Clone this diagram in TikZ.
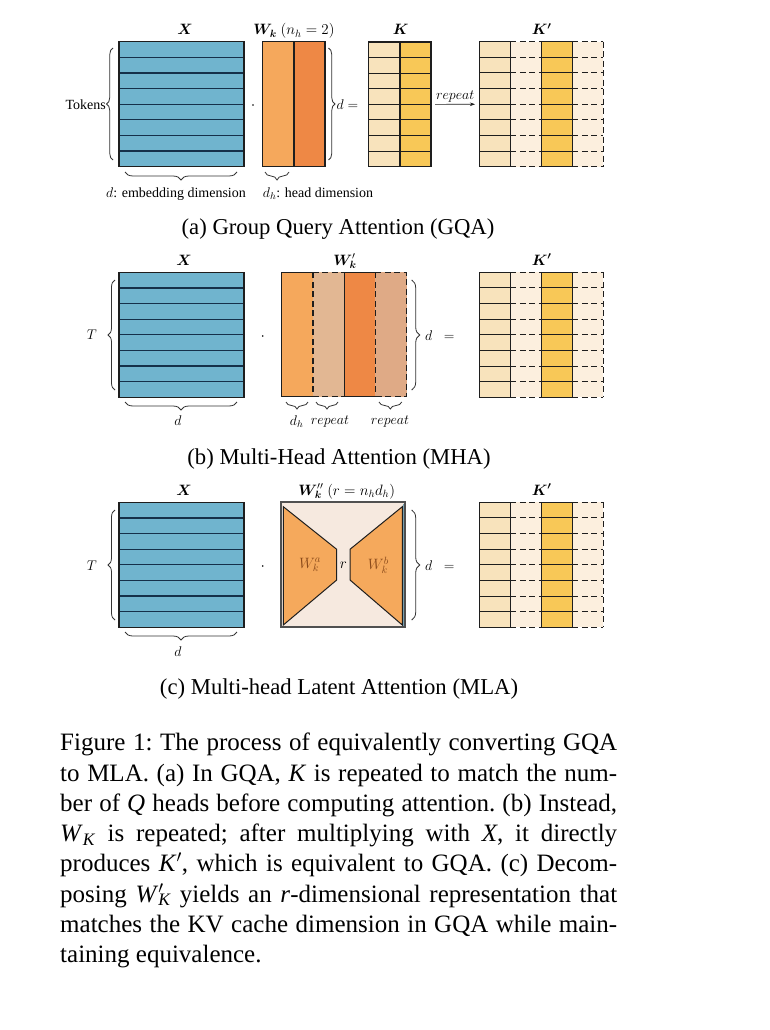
\RequirePackage{fix-cm}
\documentclass[tikz,border=0pt]{standalone}
\usepackage{fontspec}
\setmainfont{Liberation Serif}
\usepackage{bm}
\usetikzlibrary{decorations.pathreplacing,arrows.meta}
\definecolor{xblue}{HTML}{70B4CE}
\definecolor{xline}{HTML}{15304A}
\definecolor{wlight}{HTML}{F5A85C}
\definecolor{wdark}{HTML}{EE8845}
\definecolor{wtanA}{HTML}{E2B793}
\definecolor{wtanB}{HTML}{DFAA86}
\definecolor{kpale}{HTML}{F8E3BC}
\definecolor{kgold}{HTML}{F8C857}
\definecolor{kfaint}{HTML}{FCEFDE}
\definecolor{wbg}{HTML}{F6E9DF}
\definecolor{trapc}{HTML}{F5A95C}
\definecolor{brownlbl}{HTML}{8A4A1A}
\definecolor{edgec}{HTML}{1E1E1E}
\definecolor{boxgray}{HTML}{505050}
\definecolor{bracecol}{HTML}{333333}
\tikzset{
  frame/.style={draw=edgec, line width=1.3pt},
  rowline/.style={draw=xline, line width=1.2pt},
  kline/.style={draw=edgec, line width=1.1pt},
  kdash/.style={draw=edgec, line width=1.1pt, dash pattern=on 6pt off 3.5pt},
  mybrace/.style={decorate, decoration={brace, amplitude=#1}, draw=bracecol, line width=0.8pt},
  lbl/.style={inner sep=0pt, font=\fontsize{14}{16}\selectfont},
  ttl/.style={inner sep=0pt, anchor=base, font=\fontsize{15}{17}\selectfont},
  subcap/.style={inner sep=0pt, anchor=base, font=\fontsize{22.7}{27}\selectfont},
  capline/.style={inner sep=0pt, anchor=base west, font=\fontsize{25}{30.3}\selectfont\frenchspacing},
  holder/.style={inner sep=0pt, outer sep=0pt, anchor=north west},
  mydot/.style={circle, fill=black, inner sep=0pt, minimum size=1.7pt},
}
\newcommand\Xmat[3]{%
  \fill[xblue] (#2,#3) rectangle ++(125,125);
  \foreach \i in {1,...,7}{\draw[rowline] (#2,#3+\i*15.625) -- ++(125,0);}
  \draw[frame] (#2,#3) rectangle ++(125,125);
  \node[holder, minimum width=125pt, minimum height=125pt] (#1) at (#2,#3) {};
}
\newcommand\Kpmat[3]{%
  \fill[kpale] (#2,#3) rectangle ++(31,125);
  \fill[kfaint] (#2+31,#3) rectangle ++(31,125);
  \fill[kgold] (#2+62,#3) rectangle ++(31,125);
  \fill[kfaint] (#2+93,#3) rectangle ++(31,125);
  \foreach \i in {0,...,8}{%
    \draw[kline] (#2,#3+\i*15.625) -- ++(31,0);
    \draw[kdash] (#2+31,#3+\i*15.625) -- ++(31,0);
    \draw[kline] (#2+62,#3+\i*15.625) -- ++(31,0);
    \draw[kdash] (#2+93,#3+\i*15.625) -- ++(31,0);
  }
  \foreach \j in {0,1,2,3}{\draw[kline] (#2+\j*31,#3) -- ++(0,125);}
  \draw[kdash] (#2+124,#3) -- ++(0,125);
  \node[holder, minimum width=124pt, minimum height=125pt] (#1) at (#2,#3) {};
}
\newcommand\vit[1]{\textit{#1}}
\begin{document}
\begin{tikzpicture}[x=1pt,y=-1pt]
\useasboundingbox[fill=white] (0,0) rectangle (769,1030);

% ================= (a) =================
\Xmat{Xa}{119}{41.7}
% W_k
\fill[wlight] (262.3,41.7) rectangle (294,166.7);
\fill[wdark] (294,41.7) rectangle (325,166.7);
\draw[frame] (262.3,41.7) rectangle (325,166.7);
\draw[frame] (294,41.7) -- (294,166.7);
\node[holder, minimum width=62.7pt, minimum height=125pt] (Wa) at (262.3,41.7) {};
% K
\fill[kpale] (368.3,42) rectangle (400,166.7);
\fill[kgold] (400,42) rectangle (431,166.7);
\foreach \i in {1,...,7}{\draw[kline] (368.3,42+\i*15.59) -- (431,42+\i*15.59);}
\draw[kline] (368.3,42) rectangle (431,166.7);
\draw[kline] (400,42) -- (400,166.7);
\node[holder, minimum width=62.7pt, minimum height=124.7pt] (Ka) at (368.3,42) {};
% K'
\Kpmat{Kpa}{479.3}{41.7}
% titles
\node[ttl] (tXa) at (185,35) {$\bm{X}$};
\node[ttl] (tWa) at (294,35) {$\bm{W_k}\ (n_h = 2)$};
\node[ttl] (tKa) at (400.7,35) {$\bm{K}$};
\node[ttl] (tKpa) at (541.7,35) {$\bm{K'}$};
% braces
\draw[mybrace=6.5pt] (113,160) -- (113,48);
\node[lbl, anchor=east] (tok) at (106,105) {Tokens};
\draw[mybrace=6.5pt] (328.5,48) -- (328.5,160);
\node[lbl, anchor=west] (dEa) at (336.5,105) {$d =$};
\draw[mybrace=8pt] (237,172) -- (125,172);
\node[lbl] (dembd) at (176,194) {$d$: embedding dimension};
\draw[mybrace=8pt] (289,172) -- (265,172);
\node[lbl] (dhead) at (318,194) {$d_h$: head dimension};
\node[mydot] (dota) at (253,105) {};
% repeat arrow
\draw[-{Stealth[length=5pt,width=3.5pt]}, draw=edgec, line width=0.6pt, shorten <=4pt, shorten >=4.3pt] (Ka) -- node[lbl, above=1.5pt] (rep) {$repeat$} (Kpa);
\node[subcap] (capa) at (338,234) {(a) Group Query Attention (GQA)};

% ================= (b) =================
\Xmat{Xb}{119}{272.3}
% W_k'
\fill[wlight] (281.7,272.3) rectangle (312.95,396.7);
\fill[wtanA] (312.95,272.3) rectangle (344.2,396.7);
\fill[wdark] (344.2,272.3) rectangle (375.45,396.7);
\fill[wtanB] (375.45,272.3) rectangle (406.7,396.7);
\draw[kline] (312.95,272.3) -- (281.7,272.3) -- (281.7,396.7) -- (312.95,396.7);
\draw[kline] (375.45,272.3) -- (344.2,272.3) -- (344.2,396.7) -- (375.45,396.7);
\draw[kdash] (312.95,272.3) -- (312.95,396.7);
\draw[kdash] (375.45,272.3) -- (375.45,396.7);
\draw[kdash] (312.95,272.3) -- (344.2,272.3);
\draw[kdash] (312.95,396.7) -- (344.2,396.7);
\draw[kdash] (375.45,272.3) -- (406.7,272.3) -- (406.7,396.7) -- (375.45,396.7);
\node[holder, minimum width=125pt, minimum height=124.4pt] (Wb) at (281.7,272.3) {};
\Kpmat{Kpb}{479.3}{272.3}
\node[ttl] (tXb) at (184,265) {$\bm{X}$};
\node[ttl] (tWb) at (345,265) {$\bm{W_k}'$};
\node[ttl] (tKpb) at (541.7,265) {$\bm{K'}$};
\draw[mybrace=7pt] (115,390) -- (115,280);
\node[lbl, anchor=east] (Tb) at (97,335) {$T$};
\draw[mybrace=8pt] (237,402) -- (125,402);
\node[lbl] (db) at (178,421) {$d$};
\draw[mybrace=8pt] (411.7,280) -- (411.7,390);
\node[lbl, anchor=west] (dEb) at (425,336) {$d\;\;=$};
\node[mydot] (dotb) at (262.7,336) {};
\draw[mybrace=7pt] (308,402) -- (286,402);
\draw[mybrace=7pt] (338,402) -- (316,402);
\draw[mybrace=7pt] (401.7,402) -- (379,402);
\node[lbl] (dhb) at (296.7,422) {$d_h$};
\node[lbl] (repb1) at (330,422) {$repeat$};
\node[lbl] (repb2) at (390,422) {$repeat$};
\node[subcap] (capb) at (339,464) {(b) Multi-Head Attention (MHA)};

% ================= (c) =================
\Xmat{Xc}{119}{502.3}
\filldraw[fill=wbg, draw=boxgray, line width=2pt] (281,502.3) rectangle (405,626.7);
\draw[draw=xblue!60!gray, line width=0.8pt] (403.2,503.5) -- (403.2,625.5);
\filldraw[fill=trapc, draw=edgec, line width=1pt] (283.3,506.7) -- (336.7,549.3) -- (336.7,580) -- (283.3,625) -- cycle;
\filldraw[fill=trapc, draw=edgec, line width=1pt] (402.3,506.7) -- (350,549.3) -- (350,580) -- (402.3,625) -- cycle;
\node[holder, minimum width=124pt, minimum height=124.4pt] (Wc) at (281,502.3) {};
\node[lbl, text=brownlbl, font=\fontsize{15}{17}\selectfont] (Wka) at (310,565) {$W^{a}_{k}$};
\node[lbl, font=\fontsize{15}{17}\selectfont] (rc) at (343.3,565) {$r$};
\node[lbl, text=brownlbl, font=\fontsize{15}{17}\selectfont] (Wkb) at (378.3,565) {$W^{b}_{k}$};
\Kpmat{Kpc}{479.3}{502.3}
\node[ttl] (tXc) at (184,495) {$\bm{X}$};
\node[ttl] (tWc) at (346.7,495) {$\bm{W}''_{\bm{k}}\ (r = n_h d_h)$};
\node[ttl] (tKpc) at (541.7,495) {$\bm{K'}$};
\draw[mybrace=7pt] (115,620) -- (115,510);
\node[lbl, anchor=east] (Tc) at (97,566) {$T$};
\draw[mybrace=8pt] (237,632) -- (125,632);
\node[lbl] (dc) at (178,652) {$d$};
\draw[mybrace=8pt] (411.7,510) -- (411.7,620);
\node[lbl, anchor=west] (dEc) at (425,566) {$d\;\;=$};
\node[mydot] (dotc) at (262.7,566) {};
\node[subcap] (capc) at (339,694) {(c) Multi-head Latent Attention (MLA)};

% ================= caption =================
\node[capline] (c1) at (60,750.7) {\makebox[557pt][s]{Figure 1: The process of equivalently converting GQA}};
\node[capline] (c2) at (60,781) {\makebox[557pt][s]{to MLA. (a) In GQA, \vit{K} is repeated to match the num-}};
\node[capline] (c3) at (60,811.3) {\makebox[557pt][s]{ber of \vit{Q} heads before computing attention. (b) Instead,}};
\node[capline] (c4) at (60,841.6) {\makebox[557pt][s]{\vit{W}\textsubscript{\vit{K}} is repeated; after multiplying with \vit{X}, it directly}};
\node[capline] (c5) at (60,871.9) {\makebox[557pt][s]{produces \vit{K}$'$, which is equivalent to GQA. (c) Decom-}};
\node[capline] (c6) at (60,902.2) {\makebox[557pt][s]{posing \vit{W}\rlap{$'$}\textsubscript{\vit{K}} yields an \vit{r}-dimensional representation that}};
\node[capline] (c7) at (60,932.5) {\makebox[557pt][s]{matches the KV cache dimension in GQA while main-}};
\node[capline] (c8) at (60,962.8) {taining equivalence.};
\end{tikzpicture}
\end{document}
